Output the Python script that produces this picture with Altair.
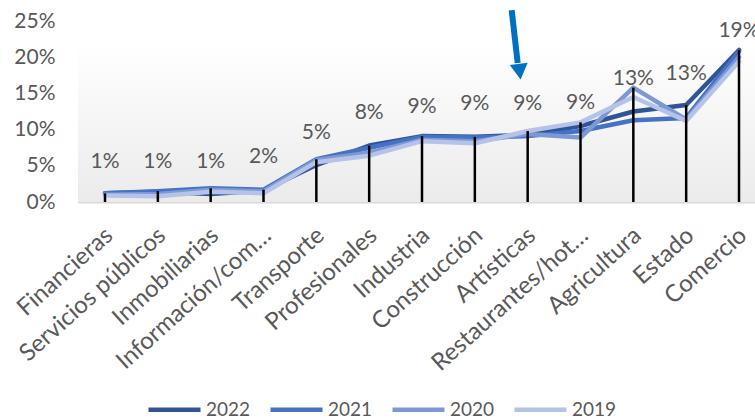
import altair as alt
import pandas as pd

categories = ["Financieras", "Servicios públicos", "Inmobiliarias", "Información/com…",
              "Transporte", "Profesionales", "Industria", "Construcción", "Artísticas",
              "Restaurantes/hot…", "Agricultura", "Estado", "Comercio"]
years = ["2022", "2021", "2020", "2019"]
colors = ["#2F5597", "#4472C4", "#7D98D5", "#B4C3E7"]

v2022 = [1.2, 1.4, 1.1, 1.6, 5.1, 7.8, 9.1, 9.0, 9.3, 10.5, 12.5, 13.4, 21.0]
v2021 = [1.2, 1.5, 1.9, 1.7, 5.9, 7.5, 9.0, 8.9, 9.1, 9.8, 11.3, 11.6, 20.8]
v2020 = [1.0, 1.1, 1.7, 1.5, 5.8, 6.8, 8.6, 8.4, 9.4, 8.9, 15.8, 11.4, 20.0]
v2019 = [0.9, 0.8, 1.4, 1.2, 5.5, 6.4, 8.4, 8.1, 9.8, 11.0, 14.5, 11.2, 19.4]

label_values = [1.3, 1.3, 1.2, 1.9, 5.3, 8.0, 8.8, 9.2, 9.2, 9.4, 12.7, 13.4, 19.4]

arrow_category = "Artísticas"
arrow_top = 0.265
arrow_shaft_end = 0.192
arrow_head = 0.180

rows = []
for y, vals in zip(years, [v2022, v2021, v2020, v2019]):
    for c, v in zip(categories, vals):
        rows.append({"cat": c, "year": y, "value": v / 100})
df = pd.DataFrame(rows)
lab = pd.DataFrame({"cat": categories, "value": [v / 100 for v in label_values]})
arrow_df = pd.DataFrame({"cat": [arrow_category], "top": [arrow_top],
                         "end": [arrow_shaft_end], "head": [arrow_head],
                         "y0": [0.25], "y1": [0.0]})

GREY = "#595959"
FONT = "Lato"

x_scale = alt.Scale(type="point", padding=0.407, align=0.628)
x_axis = alt.Axis(labelAngle=-42, labelAlign="right", labelBaseline="top",
                  labelPadding=21, labelOffset=-4, labelFontSize=24, labelColor=GREY,
                  labelFont=FONT, ticks=False, domainColor="#D9D9D9", domainWidth=2,
                  labelLimit=300, grid=False, labelOverlap=False, title=None)
y_scale = alt.Scale(domain=[0, 0.25])
y_axis = alt.Axis(values=[0, 0.05, 0.10, 0.15, 0.20, 0.25], format=".0%", labelFontSize=21,
                  labelColor=GREY, labelFont=FONT, ticks=False, tickSize=0, domain=False,
                  grid=False, labelPadding=23, labelOverlap=False, title=None)


def X():
    return alt.X("cat:N", sort=categories, scale=x_scale, axis=x_axis, title=None)


def Y(field):
    return alt.Y(field, scale=y_scale, axis=y_axis, title=None)


grad = alt.LinearGradient(gradient="linear", x1=0, y1=0, x2=0, y2=1,
                          stops=[alt.GradientStop(offset=0, color="#FFFFFF"),
                                 alt.GradientStop(offset=0.11, color="#FFFFFF"),
                                 alt.GradientStop(offset=1, color="#EBEBEB")])
background = alt.Chart(arrow_df).mark_rect(fill=grad, strokeWidth=0).encode(
    x=alt.value(0), x2=alt.value({"expr": "width"}),
    y=Y("y0:Q"), y2="y1:Q",
)

lines = alt.Chart(df).mark_line(strokeWidth=4.5, strokeJoin="round", strokeCap="round").encode(
    x=X(), y=Y("value:Q"),
    color=alt.Color("year:N", sort=years,
                    scale=alt.Scale(domain=years, range=colors),
                    legend=alt.Legend(title=None, orient="none", direction="horizontal",
                                      legendX=68, legendY=360, symbolType="stroke",
                                      symbolSize=2704, symbolStrokeWidth=4.5,
                                      labelFontSize=19, labelColor=GREY, labelFont=FONT,
                                      labelOffset=3, columnPadding=10)),
    detail="year:N",
)

drops = alt.Chart(df).transform_aggregate(
    maxv="max(value)", groupby=["cat"]
).mark_rule(color="black", strokeWidth=2.5).encode(
    x=X(), y=Y("maxv:Q"), y2=alt.datum(0),
)

labels = alt.Chart(lab).mark_text(fontSize=21, color=GREY, font=FONT, dy=-31,
                                  baseline="middle").encode(
    x=X(), y=Y("value:Q"),
    text=alt.Text("value:Q", format=".0%"),
)

shaft = alt.Chart(arrow_df).mark_rule(color="#0070C0", strokeWidth=6, xOffset=-16,
                                      x2Offset=-10, strokeCap="butt").encode(
    x=X(), x2="cat:N", y=Y("top:Q"), y2="end:Q",
)
head = alt.Chart(arrow_df).mark_point(shape="triangle-down", filled=True, size=324,
                                      color="#0070C0", opacity=1, angle=353,
                                      xOffset=-8).encode(
    x=X(), y=Y("head:Q"),
)

chart = alt.layer(background, lines, drops, labels, shaft, head).properties(
    width=677, height=181, autosize="none",
    padding={"left": 78, "top": 21, "right": 0, "bottom": 216},
).configure_view(stroke="transparent").configure_axis(labelOverlap=False).configure(
    font=FONT, background="white")

chart.save("out.html", embed_options={"renderer": "svg", "actions": False})
